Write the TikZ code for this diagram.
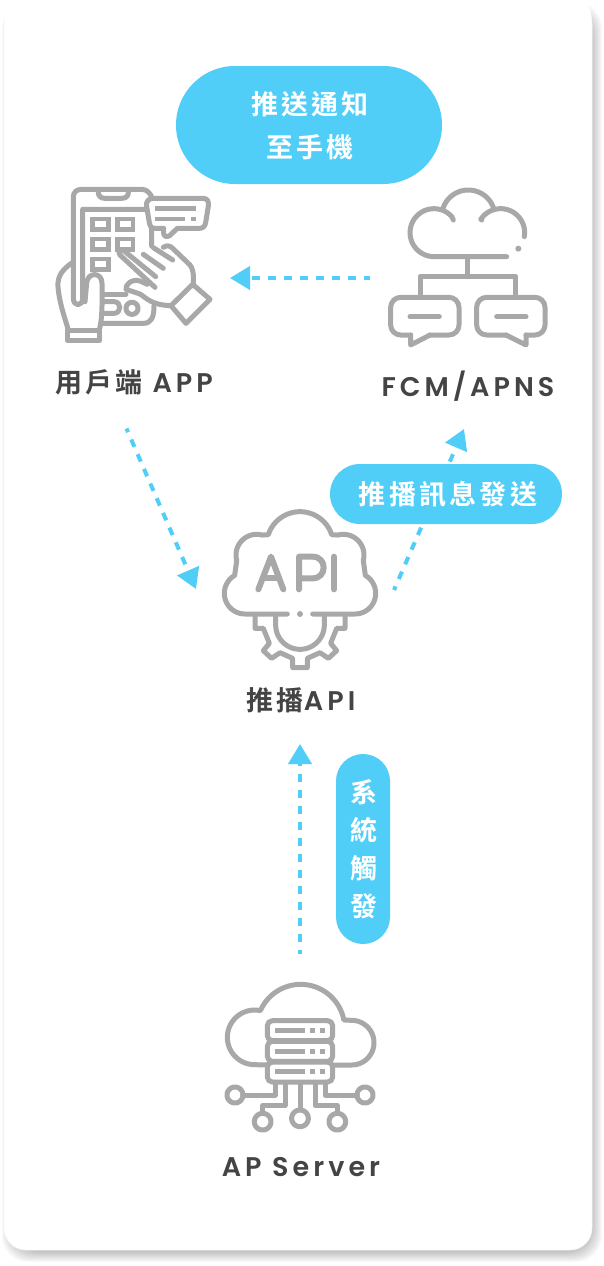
\documentclass[tikz,border=0pt]{standalone}
\usepackage{fontspec}
\usetikzlibrary{arrows.meta}
\setmainfont{Noto Sans CJK TC Bold}[LetterSpace=12]
\newfontfamily\latinf{Poppins SemiBold}[LetterSpace=15]
\definecolor{sky}{HTML}{50CEF8}
\definecolor{icong}{HTML}{A8A8A8}
\definecolor{labg}{HTML}{444444}
\newcommand{\harc}[5]{plot[domain=#4:#5,samples=30,variable=\t] ({#1+#3*cos(\t)},{#2+#3*sin(\t)})}
\newcommand{\larc}[5]{-- plot[domain=#4:#5,samples=30,variable=\t] ({#1+#3*cos(\t)},{#2+#3*sin(\t)})}
\tikzset{
  ic/.style={draw=icong,line width=5pt,line cap=round,line join=round},
  icthin/.style={draw=icong,line width=4.4pt,line join=miter},
  pill/.style={fill=sky,draw=none},
  pilltext/.style={text=white,font=\fontsize{27}{38}\selectfont,align=center,inner sep=0pt},
  lab/.style={text=labg,font=\fontsize{27}{30}\selectfont,inner sep=0pt},
  flow/.style={draw=sky,line width=4pt,dash pattern=on 8pt off 8pt,-{Triangle[length=20pt,width=23pt]}}
}
\begin{document}
\begin{tikzpicture}[x=1pt,y=-1pt]
\useasboundingbox (0,0) rectangle (604,1266);
% card shadow
\foreach \e in {-6,-5,...,6}{
  \fill[black,opacity=.025,rounded corners=26pt] ({4+4-\e},{2+6-\e}) rectangle ({592+4+\e},{1250+6+\e});
}
\fill[white,rounded corners=22pt] (4,2) rectangle (592,1250);
\draw[black!4,line width=.6pt,rounded corners=22pt] (4,2) rectangle (592,1250);
\fill[white,rounded corners=22pt] (4.4,-4) rectangle (591.6,1249.6);

% connector free ends
\coordinate (appout) at (126.5,428.5);
\coordinate (apiinA) at (196,589);
\coordinate (fcmout) at (370,278);
\coordinate (appin)  at (230,278);
\coordinate (apiout) at (394,590);
\coordinate (fcmin)  at (464,429);
\coordinate (srvout) at (300,954);
\coordinate (apiinB) at (300,744);

\draw[flow,dash phase=4pt] (appout) -- (apiinA);
\draw[flow,dash phase=2pt] (fcmout) -- (appin);
\draw[flow,dash phase=4pt] (apiout) -- (fcmin);
\draw[flow,dash phase=4pt] (srvout) -- (apiinB);

% pills
\fill[pill] (176,66) [rounded corners=59pt] rectangle (442,184);
\fill[pill] (330,464) [rounded corners=30pt] rectangle (562,524);
\fill[pill] (336,754) [rounded corners=27pt] rectangle (390,944);
\node[pilltext,anchor=center] (pushmsg) at (310,126) {推送通知\\[5pt]至手機};
\node[pilltext,anchor=center] (sendmsg) at (448,494.5) {推播訊息發送};
\node[pilltext,anchor=center] (trigger) at (364,849.5) {系\\統\\觸\\發};

% labels
\node[lab] (appl) at (134,382) {用戶端\hspace{10pt}{\latinf APP}};
\node[lab] (fcml) at (468,386) {\latinf FCM/APNS};
\node[lab] (apil) at (301,700) {推播{\latinf API}};
\node[lab] (srvl) at (301,1167) {\latinf AP Server};

% phone icon
\begin{scope}[shift={(40,170)},scale=1/3]
  \path[ic] (337,85) .. controls (330,68) and (320,58) .. (305,58) -- (125,58) .. controls (108,58) and (100,68) .. (100,82) -- (100,385) .. controls (100,410) and (128,410) .. (128,385) -- (128,118) -- (335,118) -- (335,228);
  \path[ic] (175,60) -- (175,68) .. controls (175,80) and (185,85) .. (195,85) -- (245,85) .. controls (255,85) and (265,80) .. (265,68) -- (265,60);
  \foreach \x/\y in {158/147,232/147,158/207,232/207,158/267}{
    \path[icthin] (\x,\y) rectangle ++(47,32);
  }
  % bubble
  \path[ic,fill=white] (340,85) -- (490,85) .. controls (502,85) and (507,95) .. (505,108) -- (497,158) .. controls (495,170) and (488,175) .. (478,175) -- (412,175) -- (390,196) .. controls (380,204) and (371,198) .. (371,190) -- (371,175) -- (345,175) .. controls (335,175) and (330,170) .. (328,158) -- (320,110) .. controls (317,95) and (325,85) .. (340,85) -- cycle;
  \path[icthin] (345,115) -- (467,115);
  \path[icthin] (345,147) -- (435,147);
  \path[icthin] (452,147) -- (467,147);
  % right hand
  \path[ic,fill=white] (345,352) -- (240,255) .. controls (230,245) and (245,232) .. (255,245) -- (347,320);
  \path[ic] (310,253) -- (370,295);
  \path[ic] (340,233) -- (398,270);
  \path[ic] (370,232) .. controls (380,224) and (392,228) .. (398,235) -- (450,285) .. controls (458,295) and (462,310) .. (460,345);
  \path[ic] (322,343) -- (300,333) .. controls (275,325) and (255,345) .. (258,358) -- (300,372) .. controls (320,385) and (335,405) .. (392,407);
  \path[ic] (458,343) -- (510,388) -- (438,460) -- (393,407) -- cycle;
  % device bottom
  \path[ic] (190,372) -- (258,372);
  \path[ic] (190,395) -- (222,395) .. controls (245,395) and (245,430) .. (222,430) -- (190,430);
  \path[ic] (190,460) -- (310,460) .. controls (335,460) and (342,440) .. (342,408);
  \path[ic] \harc{276}{415}{18}{0}{360};
  % left hand
  \path[ic] (97,278) .. controls (65,300) and (52,320) .. (54,350) .. controls (58,400) and (75,445) .. (85,480);
  \path[ic] (82,480) rectangle (178,511);
  \path[ic] (178,480) .. controls (188,440) and (186,400) .. (186,340) .. controls (186,305) and (142,305) .. (140,340) -- (135,395);
\end{scope}

% FCM icon
\begin{scope}[shift={(370,170)},scale=1/3]
  \path[ic] (250,150) \larc{192}{188}{72}{-42}{-270} -- (410,260);
  \path[ic] \harc{295}{140}{80}{-160}{-20};
  \path[ic] (335,150) \larc{392}{188}{72}{-146}{0} -- (463,200);
  \fill[icong] (445,236) circle[radius=9];
  \path[ic] (293,260) -- (293,320);
  \path[ic] (150,380) -- (150,320) -- (437,320) -- (437,380);
  \path[ic,rounded corners=10pt] (122,495) -- (62,495) -- (62,382) -- (267,382) -- (267,495) -- (180,495);
  \path[ic] (180,495) -- (122,525) -- (122,495);
  \path[ic,rounded corners=10pt] (468,495) -- (525,495) -- (525,382) -- (320,382) -- (320,495) -- (408,495);
  \path[ic] (408,495) -- (468,525) -- (468,495);
  \path[ic] (120,440) -- (208,440);
  \path[ic] (380,440) -- (468,440);
\end{scope}

% API icon
\begin{scope}[shift={(210,500)},scale=1/3]
  \path[ic] (232,342) -- (105,342) \larc{105}{280}{62}{90}{240} \larc{140}{165}{62}{165}{285} \larc{270}{135}{100}{-162}{-18} \larc{400}{165}{62}{-105}{15} \larc{435}{280}{62}{-60}{90} -- (308,342);
  \fill[icong] (270,342) circle[radius=9];
  \path[ic] (197,350) -- (197,375) \larc{270}{375}{73}{180}{0} -- (343,350);
  \path[ic] (135,350) -- (135,385) -- (160,385) -- (178,430) -- (160,452) -- (185,475) -- (210,458) -- (248,475) -- (248,503) -- (292,503) -- (292,475) -- (330,458) -- (355,475) -- (380,452) -- (362,430) -- (380,385) -- (405,385) -- (405,350);
  \path[ic,line width=6pt] (145,268) -- (183,170) -- (220,268);
  \path[ic,line width=6pt] (160,235) -- (207,235);
  \path[ic,line width=6pt] (267,268) -- (267,170) -- (308,170) .. controls (352,170) and (352,235) .. (308,235) -- (267,235);
  \path[ic,line width=6pt] (372,170) -- (372,268);
\end{scope}

% server icon
\begin{scope}[shift={(210,975)},scale=1/3]
  \path[ic] (172,270) -- (134,269) \larc{134}{187}{82}{90}{280} \larc{272}{160}{132}{-156}{-11} \larc{425}{203}{67}{-90}{90} -- (370,270);
  \foreach \y in {137,199,261}{
    \path[ic,rounded corners=5pt] (172,\y) rectangle (368,\y+60);
    \fill[icong] (195,\y+22) rectangle (285,\y+37);
    \fill[icong] (300,\y+22) rectangle (316,\y+37);
    \fill[icong] (330,\y+22) rectangle (346,\y+37);
  }
  \path[ic] (195,322) -- (195,360) -- (98,360);
  \path[ic] \harc{75}{360}{24}{0}{360};
  \path[ic] (345,322) -- (345,360) -- (442,360);
  \path[ic] \harc{465}{360}{24}{0}{360};
  \path[ic] (225,322) -- (225,392) -- (158,392) -- (158,415);
  \path[ic] \harc{158}{440}{25}{0}{360};
  \path[ic] (315,322) -- (315,392) -- (382,392) -- (382,415);
  \path[ic] \harc{382}{440}{25}{0}{360};
  \path[ic] (270,322) -- (270,405);
  \path[ic] \harc{270}{430}{25}{0}{360};
\end{scope}
\end{tikzpicture}
\end{document}
